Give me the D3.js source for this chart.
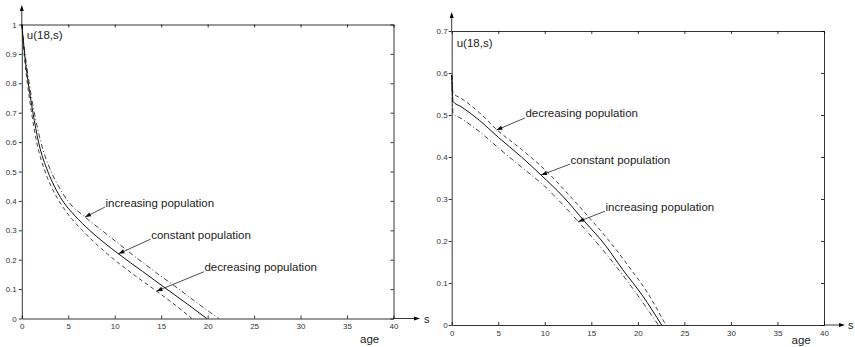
<!DOCTYPE html>
<html>
<head>
<meta charset="utf-8">
<script src="https://cdn.jsdelivr.net/npm/d3@7"></script>
<style>
body { margin: 0; background: #fff; }
svg { display: block; font-family: "Liberation Sans", Arial, sans-serif; }
.tick text { fill: #333; font-size: 8px; }
.domain, .tick line { stroke: #000; stroke-width: 0.8; }
</style>
</head>
<body>
<script>
// age ticks shared by both panels
var ageTicks = [0, 5, 10, 15, 20, 25, 30, 35, 40];
var leftUTicks = [0, 0.1, 0.2, 0.3, 0.4, 0.5, 0.6, 0.7, 0.8, 0.9, 1];
var rightUTicks = [0, 0.1, 0.2, 0.3, 0.4, 0.5, 0.6, 0.7];

// left panel, [s, u(18,s)]
var leftConstant = [[0,1],[0.3,0.9],[0.7,0.8],[1.2,0.7],[1.8,0.6],[2.8,0.5],[3.5,0.45],[4.4,0.4],[5.7,0.35],[7.3,0.3],[10.4,0.22],[13,0.16],[15.9,0.093],[18,0.045],[19.9,0]];
var leftIncreasing = [[0,1],[0.35,0.9],[0.8,0.8],[1.35,0.7],[2.05,0.6],[3.15,0.5],[3.95,0.45],[4.95,0.4],[6.8,0.345],[8.6,0.3],[11.8,0.22],[14.5,0.155],[16.9,0.1],[19.2,0.045],[21.2,0]];
var leftDecreasing = [[0,1],[0.25,0.9],[0.6,0.8],[1.05,0.7],[1.6,0.6],[2.5,0.5],[3.15,0.45],[4.0,0.4],[5.1,0.35],[6.5,0.3],[9.2,0.22],[11.8,0.155],[14.5,0.093],[16.5,0.046],[18.3,0]];

// right panel
var rightConstant = [[0,0.595],[0.15,0.532],[1,0.52],[3,0.487],[5,0.447],[7.5,0.4],[9.6,0.357],[12,0.305],[14.3,0.246],[16.5,0.19],[18.4,0.131],[20.5,0.07],[22.55,0]];
var rightDecreasing = [[0,0.595],[0.15,0.552],[1,0.54],[3,0.505],[4.8,0.466],[7.5,0.418],[10,0.37],[12.5,0.312],[14.8,0.255],[17,0.198],[19,0.14],[21,0.078],[23,0]];
var rightIncreasing = [[0,0.595],[0.15,0.504],[1,0.492],[3,0.46],[5,0.422],[7.5,0.376],[10,0.33],[12,0.285],[13.6,0.246],[16,0.185],[18,0.13],[20,0.07],[22.2,0]];

// annotations: text, arrow tip, leader end (data units)
var leftNotes = [
    {text: 'increasing population', tip: [6.8, 0.345], end: [8.95, 0.379]},
    {text: 'constant population', tip: [10.4, 0.22], end: [13.87, 0.27]},
    {text: 'decreasing population', tip: [14.5, 0.093], end: [19.6, 0.159]}
];
var rightNotes = [
    {text: 'decreasing population', tip: [4.8, 0.464], end: [7.87, 0.493]},
    {text: 'constant population', tip: [9.6, 0.357], end: [12.71, 0.383]},
    {text: 'increasing population', tip: [13.6, 0.246], end: [16.47, 0.271]}
];

var width = 855, height = 347;
var svg = d3.select('body').append('svg').attr('width', width).attr('height', height);

function panel(opt) {
    var x = d3.scaleLinear().domain([0, 40]).range(opt.xr);
    var y = d3.scaleLinear().domain([0, opt.ymax]).range(opt.yr);
    var g = svg.append('g');
    var fmt = d => d === 0 ? '0' : String(d);

    // frame: top and right with inward ticks
    g.append('g').attr('transform', 'translate(0,' + opt.yr[1] + ')')
        .call(d3.axisTop(x).tickValues(ageTicks).tickSizeInner(-3).tickSizeOuter(0).tickFormat(''));
    g.append('g').attr('transform', 'translate(' + opt.xr[1] + ',0)')
        .call(d3.axisRight(y).tickValues(opt.yticks).tickSizeInner(-3).tickSizeOuter(0).tickFormat(''));

    g.append('g').attr('transform', 'translate(0,' + opt.yr[0] + ')')
        .call(d3.axisBottom(x).tickValues(ageTicks).tickSizeInner(-3).tickSizeOuter(0).tickPadding(5).tickFormat(fmt));
    g.append('g').attr('transform', 'translate(' + opt.xr[0] + ',0)')
        .call(d3.axisLeft(y).tickValues(opt.yticks).tickSizeInner(3).tickSizeOuter(0).tickPadding(opt.ypad).tickFormat(fmt));

    // axis arrows
    g.append('line').attr('x1', opt.xr[1]).attr('x2', opt.xArrow - 4)
        .attr('y1', opt.yr[0]).attr('y2', opt.yr[0]).attr('stroke', '#000').attr('stroke-width', 0.8);
    g.append('path').attr('d', 'M' + opt.xArrow + ',' + opt.yr[0] + 'l-6,-2l0,4z').attr('fill', '#000');
    g.append('line').attr('x1', opt.xr[0]).attr('x2', opt.xr[0])
        .attr('y1', opt.yr[1]).attr('y2', opt.yArrow + 4).attr('stroke', '#000').attr('stroke-width', 0.8);
    g.append('path').attr('d', 'M' + opt.xr[0] + ',' + opt.yArrow + 'l-2,6l4,0z').attr('fill', '#000');

    g.append('text').attr('x', opt.xArrow + opt.sGap).attr('y', opt.yr[0] + 4)
        .attr('font-size', 11).attr('fill', '#222').text('s');
    g.append('text').attr('x', opt.agePos[0]).attr('y', opt.agePos[1])
        .attr('font-size', 11.5).attr('fill', '#222').text('age');
    g.append('text').attr('x', opt.xr[0] + 5).attr('y', opt.yr[1] + opt.uDy)
        .attr('font-size', 11.5).attr('fill', '#222').text('u(18,s)');

    var line = d3.line().x(d => x(d[0])).y(d => y(d[1])).curve(d3.curveMonotoneX);
    opt.series.forEach(function(s) {
        g.append('path').attr('d', line(s.data))
            .attr('fill', 'none').attr('stroke', '#111').attr('stroke-width', s.w)
            .attr('stroke-dasharray', s.dash);
    });

    opt.notes.forEach(function(n) {
        var tx = x(n.tip[0]), ty = y(n.tip[1]);
        var ex = x(n.end[0]), ey = y(n.end[1]);
        var a = Math.atan2(ty - ey, tx - ex);
        g.append('line').attr('x1', ex).attr('y1', ey).attr('x2', tx).attr('y2', ty)
            .attr('stroke', '#222').attr('stroke-width', 0.8);
        var L = 6, W = 2.2;
        var bx = tx - L * Math.cos(a), by = ty - L * Math.sin(a);
        var px = -Math.sin(a) * W, py = Math.cos(a) * W;
        g.append('path')
            .attr('d', 'M' + tx + ',' + ty + 'L' + (bx + px) + ',' + (by + py) + 'L' + (bx - px) + ',' + (by - py) + 'Z')
            .attr('fill', '#111');
        g.append('text').attr('x', ex + 0.5).attr('y', ey - 0.5)
            .attr('font-size', 11.5).attr('fill', '#222').text(n.text);
    });
}

panel({
    xr: [21.8, 393.5], yr: [318.5, 24.5], ymax: 1, yticks: leftUTicks, ypad: 2,
    xArrow: 420, sGap: 4, yArrow: 5, agePos: [360, 343], uDy: 14,
    series: [
        {data: leftConstant, dash: null, w: 1},
        {data: leftIncreasing, dash: '5,2.5,1,2.5', w: 0.8},
        {data: leftDecreasing, dash: '4,3', w: 0.8}
    ],
    notes: leftNotes
});

panel({
    xr: [451.7, 824], yr: [325, 31], ymax: 0.7, yticks: rightUTicks, ypad: 1,
    xArrow: 845, sGap: 3, yArrow: 12, agePos: [791.5, 344], uDy: 16,
    series: [
        {data: rightConstant, dash: null, w: 1},
        {data: rightIncreasing, dash: '5,2.5,1,2.5', w: 0.8},
        {data: rightDecreasing, dash: '4,3', w: 0.8}
    ],
    notes: rightNotes
});
</script>
</body>
</html>
